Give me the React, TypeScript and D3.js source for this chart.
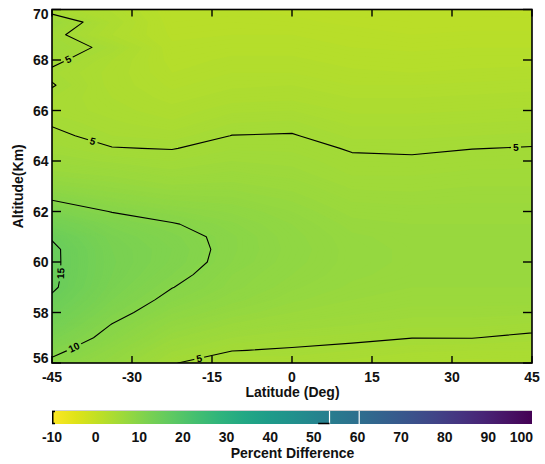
import React from "react";
import * as d3 from "d3";

// Grid: latitude columns (deg) and altitude rows (km)
const latitudes = [-45, -33.75, -22.5, -11.25, 0, 11.25, 22.5, 33.75, 45];
const altitudes = [56, 56.5, 57, 57.5, 58, 58.5, 59, 59.5, 60, 60.5, 61, 61.5, 62, 62.5, 63, 63.5, 64, 64.5, 65, 65.5, 66, 66.5, 67, 67.5, 68, 68.5, 69, 69.5, 70];

// Percent difference, one array per latitude column, from 56 km up to 70 km
const pdLatS45 = [9.5, 10.6, 11.8, 12.9, 13.8, 14.6, 15.35, 15.45, 15.45, 15.45, 14.8, 13.2, 11.6, 9.8, 8.2, 7.0, 6.2, 5.7, 5.25, 4.9, 4.5, 4.6, 5.1, 4.7, 5.4, 6.0, 5.5, 6.4, 4.2];
const pdLatS34 = [7.6, 8.3, 9.2, 9.9, 10.8, 11.5, 12.0, 12.3, 12.4, 12.3, 12.0, 11.3, 9.9, 8.6, 7.5, 6.6, 5.8, 5.05, 4.6, 4.3, 4.0, 3.8, 3.6, 3.6, 3.8, 4.5, 3.3, 3.7, 3.2];
const pdLatS22 = [5.1, 6.0, 6.9, 7.7, 8.6, 9.4, 10.05, 10.6, 11.0, 11.1, 10.8, 10.15, 9.0, 7.9, 6.9, 6.1, 5.5, 4.95, 4.4, 3.9, 3.5, 3.1, 2.8, 2.5, 2.3, 2.1, 1.9, 1.7, 1.6];
const pdLatS11 = [4.1, 5.05, 5.9, 6.7, 7.5, 8.2, 8.7, 8.9, 9.3, 9.4, 9.4, 9.0, 8.4, 7.7, 7.0, 6.4, 5.9, 5.45, 5.02, 4.6, 4.1, 3.6, 3.2, 2.9, 2.6, 2.3, 2.0, 1.8, 1.6];
const pdLatEq = [4.3, 4.85, 5.5, 6.2, 6.8, 7.3, 7.7, 8.0, 8.2, 8.3, 8.2, 8.0, 7.6, 7.1, 6.6, 6.1, 5.75, 5.4, 5.07, 4.7, 4.2, 3.7, 3.3, 2.9, 2.6, 2.3, 2.0, 1.7, 1.5];
const pdLatN11 = [4.0, 4.6, 5.3, 5.9, 6.4, 6.8, 7.1, 7.3, 7.4, 7.4, 7.3, 7.0, 6.6, 6.2, 5.8, 5.45, 5.2, 4.9, 4.5, 4.1, 3.7, 3.3, 2.9, 2.6, 2.3, 2.0, 1.8, 1.5, 1.3];
const pdLatN22 = [3.7, 4.3, 5.02, 5.6, 6.1, 6.5, 6.8, 7.0, 7.1, 7.1, 7.0, 6.8, 6.5, 6.1, 5.75, 5.45, 5.15, 4.85, 4.5, 4.1, 3.7, 3.3, 2.9, 2.5, 2.2, 1.9, 1.6, 1.4, 1.2];
const pdLatN34 = [3.6, 4.2, 5.03, 5.6, 6.1, 6.5, 6.8, 7.0, 7.1, 7.1, 7.0, 6.8, 6.5, 6.2, 5.9, 5.6, 5.3, 4.98, 4.6, 4.2, 3.8, 3.4, 3.0, 2.6, 2.3, 2.0, 1.7, 1.4, 1.2];
const pdLatN45 = [3.7, 4.2, 4.75, 5.4, 6.0, 6.5, 6.8, 7.0, 7.1, 7.1, 7.0, 6.8, 6.5, 6.2, 5.9, 5.6, 5.35, 5.05, 4.7, 4.3, 3.9, 3.5, 3.1, 2.7, 2.3, 2.0, 1.7, 1.4, 1.1];

const xTicks = [-45, -30, -15, 0, 15, 30, 45];
const yTicks = [56, 58, 60, 62, 64, 66, 68, 70];
const colorTicks = [-10, 0, 10, 20, 30, 40, 50, 60, 70, 80, 90, 100];
const contourLevels = [5, 10, 15];

// Contour labels: level and approximate (lat, alt) where each label sits
const labelLevel = [5, 5, 5, 10, 15, 5];
const labelLat = [-41.9, -37.4, 42.0, -41.0, -43.7, -17.4];
const labelAlt = [68.0, 64.76, 64.54, 56.67, 59.55, 56.19];

// Marker values drawn on the colour bar
const colorbarMarks = [53.6, 60.4];
const colorbarBracket = [51, 53.6];

const FONT = "'Liberation Sans', Arial, Helvetica, sans-serif";

export default function App() {
  const W = 545, H = 464;
  const plotL = 52, plotR = 532, plotT = 9.5, plotB = 363;
  const cbT = 411, cbB = 424;

  const x = d3.scaleLinear().domain([-45, 45]).range([plotL, plotR]);
  const y = d3.scaleLinear().domain([56, 70]).range([plotB, plotT]);
  const color = d3.scaleSequential(d3.interpolateViridis).domain([100, -10]);
  const cx = d3.scaleLinear().domain([-10, 100]).range([plotL, plotR]);

  const columns = [pdLatS45, pdLatS34, pdLatS22, pdLatS11, pdLatEq, pdLatN11, pdLatN22, pdLatN34, pdLatN45];
  const nx = latitudes.length, ny = altitudes.length;
  const grid: number[] = [];
  for (let j = 0; j < ny; j++) for (let i = 0; i < nx; i++) grid.push(columns[i][j]);

  const latOfIdx = d3.scaleLinear().domain([0, nx - 1]).range([latitudes[0], latitudes[nx - 1]]);
  const altOfIdx = d3.scaleLinear().domain([0, ny - 1]).range([altitudes[0], altitudes[ny - 1]]);
  const px = (c: number) => x(latOfIdx(c - 0.5));
  const py = (r: number) => y(altOfIdx(r - 0.5));
  const proj = d3.geoTransform({
    point(a: number, b: number) {
      (this as any).stream.point(px(a), py(b));
    },
  });
  const path = d3.geoPath(proj as any);

  const [vmin, vmax] = d3.extent(grid) as [number, number];
  const fillThresholds = d3.range(Math.floor(vmin * 10) / 10, vmax, 0.1);
  const bands = d3.contours().size([nx, ny]).thresholds(fillThresholds)(grid);
  const lines = d3.contours().size([nx, ny]).thresholds(contourLevels)(grid);

  const labels = labelLevel.map((lv, k) => {
    const tx = x(labelLat[k]), ty = y(labelAlt[k]);
    const mp = lines.find((c) => c.value === lv)!;
    let best = { d: Infinity, x: tx, y: ty, a: 0 };
    mp.coordinates.forEach((poly) =>
      poly.forEach((ring) => {
        for (let s = 0; s < ring.length - 1; s++) {
          const x0 = px(ring[s][0]), y0 = py(ring[s][1]);
          const x1 = px(ring[s + 1][0]), y1 = py(ring[s + 1][1]);
          const dx = x1 - x0, dy = y1 - y0;
          const len2 = dx * dx + dy * dy;
          if (len2 < 1e-9) continue;
          let t = ((tx - x0) * dx + (ty - y0) * dy) / len2;
          t = Math.max(0, Math.min(1, t));
          const qx = x0 + t * dx, qy = y0 + t * dy;
          if (qx < plotL || qx > plotR || qy < plotT || qy > plotB) continue;
          const d = Math.hypot(qx - tx, qy - ty);
          if (d < best.d) best = { d, x: qx, y: qy, a: (Math.atan2(dy, dx) * 180) / Math.PI };
        }
      })
    );
    let a = best.a;
    if (a >= 90) a -= 180;
    if (a < -90) a += 180;
    return { text: String(lv), x: best.x, y: best.y, a };
  });

  const gradStops = d3.range(0, 1.0001, 0.05);

  return (
    <svg width={W} height={H} style={{ position: "absolute", left: 0, top: 0, background: "#fff" }} fontFamily={FONT}>
      <defs>
        <clipPath id="plotClip">
          <rect x={plotL} y={plotT} width={plotR - plotL} height={plotB - plotT} />
        </clipPath>
        <mask id="labelMask" maskUnits="userSpaceOnUse" x={0} y={0} width={W} height={H}>
          <rect x={0} y={0} width={W} height={H} fill="white" />
          {labels.map((l, i) => {
            const w = l.text.length * 6 + 4;
            return (
              <rect key={i} x={-w / 2} y={-5} width={w} height={10} fill="black"
                transform={`translate(${l.x},${l.y}) rotate(${l.a})`} />
            );
          })}
        </mask>
        <linearGradient id="cbGrad" x1="0" x2="1" y1="0" y2="0">
          {gradStops.map((t, i) => (
            <stop key={i} offset={t} stopColor={color(cx.invert(plotL + t * (plotR - plotL)))} />
          ))}
        </linearGradient>
      </defs>

      {/* filled field */}
      <g clipPath="url(#plotClip)">
        <rect x={plotL} y={plotT} width={plotR - plotL} height={plotB - plotT} fill={color(vmin)} />
        {bands.map((b, i) => (
          <path key={i} d={path(b as any) || ""} fill={color(b.value + 0.05)} stroke="none" />
        ))}
      </g>

      {/* contour lines */}
      <g clipPath="url(#plotClip)">
        <g mask="url(#labelMask)">
          {lines.map((c, i) => (
            <path key={i} d={path(c as any) || ""} fill="none" stroke="#000" strokeWidth={1.1} strokeLinejoin="round" />
          ))}
        </g>
        {labels.map((l, i) => (
          <text key={i} transform={`translate(${l.x},${l.y}) rotate(${l.a})`} textAnchor="middle" dy="0.36em"
            fontSize={10} fontWeight="bold" fill="#000">
            {l.text}
          </text>
        ))}
      </g>

      {/* frame */}
      <rect x={plotL} y={plotT} width={plotR - plotL} height={plotB - plotT} fill="none" stroke="#000" strokeWidth={1.6} />

      {/* x ticks */}
      {xTicks.map((t) => (
        <g key={t}>
          <line x1={x(t)} x2={x(t)} y1={plotB} y2={plotB - 7} stroke="#000" strokeWidth={1.4} />
          <line x1={x(t)} x2={x(t)} y1={plotT} y2={plotT + 7} stroke="#000" strokeWidth={1.4} />
          <text x={x(t)} y={382} textAnchor="middle" fontSize={14} fontWeight="bold" fill="#111">
            {t}
          </text>
        </g>
      ))}
      {/* y ticks */}
      {yTicks.map((t) => (
        <g key={t}>
          <line x1={plotL} x2={plotL + 9} y1={y(t)} y2={y(t)} stroke="#000" strokeWidth={1.4} />
          <line x1={plotR} x2={plotR - 9} y1={y(t)} y2={y(t)} stroke="#000" strokeWidth={1.4} />
          <text x={48.5} y={Math.max(plotT + 9, Math.min(plotB, y(t) + 5))} textAnchor="end" fontSize={14}
            fontWeight="bold" fill="#111">
            {t}
          </text>
        </g>
      ))}

      <text x={292.5} y={397} textAnchor="middle" fontSize={14} fontWeight="bold" fill="#111">
        Latitude (Deg)
      </text>
      <text transform={`translate(23,${(plotT + plotB) / 2}) rotate(-90)`} textAnchor="middle" fontSize={14}
        fontWeight="bold" fill="#111">
        Altitude(Km)
      </text>

      {/* colour bar */}
      <line x1={plotL} x2={plotR} y1={cbT - 0.5} y2={cbT - 0.5} stroke="#d0d0d0" strokeWidth={1} />
      <rect x={plotL} y={cbT} width={plotR - plotL} height={cbB - cbT} fill="url(#cbGrad)" />
      {colorbarMarks.map((m, i) => (
        <line key={i} x1={cx(m)} x2={cx(m)} y1={cbT} y2={cbB} stroke="#fff" strokeWidth={1.2} />
      ))}
      <line x1={cx(colorbarBracket[0])} x2={cx(colorbarBracket[1])} y1={cbB - 0.5} y2={cbB - 0.5} stroke="#000" strokeWidth={1.5} />
      <path d={`M${plotL + 3},${cbT + 0.5} H${plotL + 0.75} V${cbB - 0.5} H${plotL + 3}`} fill="none" stroke="#000" strokeWidth={1.5} />
      {colorTicks.map((t, i) => {
        const last = i === colorTicks.length - 1;
        return (
          <text key={t} x={last ? cx(t) + 1 : cx(t)} y={441.5} textAnchor={last ? "end" : "middle"} fontSize={14}
            fontWeight="bold" fill="#111">
            {t}
          </text>
        );
      })}
      <text x={292.5} y={458} textAnchor="middle" fontSize={14} fontWeight="bold" fill="#111">
        Percent Difference
      </text>
    </svg>
  );
}
